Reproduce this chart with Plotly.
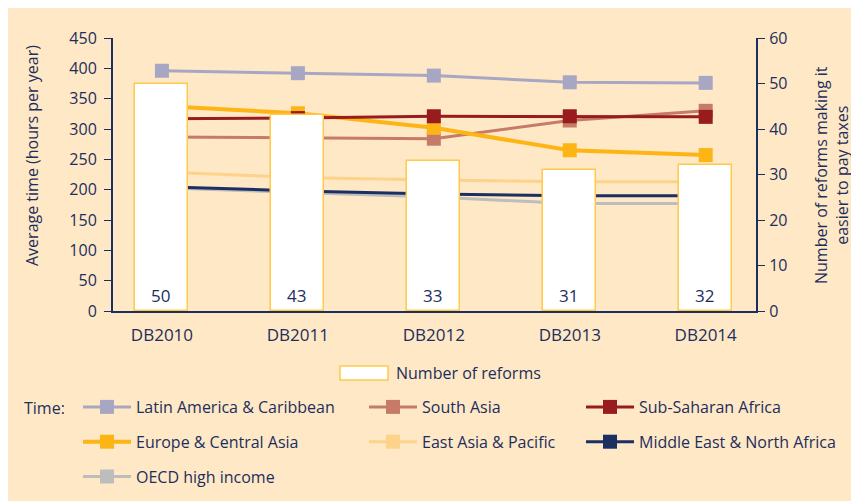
import plotly.graph_objects as go

categories = ["DB2010", "DB2011", "DB2012", "DB2013", "DB2014"]
reforms = [50, 43, 33, 31, 32]

latin_america = [396, 392, 388, 377, 376]
south_asia = [287, 286, 284, 314, 330]
sub_saharan = [317, 318, 321, 321, 320]
europe_central_asia = [338, 326, 302, 265, 257]
east_asia_pacific = [229, 220, 216, 213, 213]
mena = [205, 198, 193, 190, 190]
oecd = [203, 196, 188, 177, 177]

NAVY = "#1C2E5E"
BG = "#FFE8C5"
FONT = "Open Sans"

# plot-area edges as seen on screen (page has an 8px body margin)
PL, PR, PT, PB = 113, 756, 38, 311
PW, PH = PR - PL, PB - PT
OFF = 8

def px(x):
    return (x - PL) / PW

def py(y):
    return (PB - y) / PH

fig = go.Figure()

fig.add_trace(go.Bar(
    x=categories, y=reforms, yaxis="y2", width=0.39,
    marker=dict(color="white", line=dict(color="#FFC94A", width=1.5)),
    text=[str(v) for v in reforms], textposition="inside", insidetextanchor="start",
    textfont=dict(color=NAVY, size=17, family=FONT), showlegend=False,
    name="Number of reforms", cliponaxis=False,
))

series = [
    ("OECD high income", oecd, "#BDBDBD", 3, "legend", 3),
    ("South Asia", south_asia, "#C57B68", 3, "legend2", 1),
    ("Latin America & Caribbean", latin_america, "#A8A7C3", 3, "legend", 1),
    ("Europe & Central Asia", europe_central_asia, "#FDB515", 4, "legend", 2),
    ("East Asia & Pacific", east_asia_pacific, "#FDD38C", 3, "legend2", 2),
    ("Sub-Saharan Africa", sub_saharan, "#981B1E", 3, "legend3", 1),
    ("Middle East & North Africa", mena, "#1C2F63", 3, "legend3", 2),
]
for name, vals, col, w, leg, rank in series:
    fig.add_trace(go.Scatter(
        x=categories, y=vals, name=name, mode="lines+markers",
        line=dict(color=col, width=w),
        marker=dict(symbol="square", size=14, color=col),
        legend=leg, legendrank=rank, legendgroup=name,
    ))

legfont = dict(family=FONT, size=16, color=NAVY)

def leg(xpix, ypix):
    return dict(xref="container", yref="container", x=xpix / 859, y=1 - ypix / 501,
                xanchor="left", yanchor="top", orientation="v",
                bgcolor="rgba(0,0,0,0)", font=legfont, tracegroupgap=11,
                itemwidth=48)

fig.update_layout(
    width=859, height=501,
    paper_bgcolor=BG, plot_bgcolor=BG,
    margin=dict(l=PL - OFF, r=859 - (PR - OFF), t=PT - OFF, b=501 - (PB - OFF), autoexpand=False),
    font=dict(family=FONT, size=16, color=NAVY),
    bargap=0,
    xaxis=dict(type="category", range=[-0.36, 4.37], showgrid=False,
               showline=True, linecolor=NAVY, linewidth=2, ticks="", zeroline=False,
               ticklabelstandoff=8, tickfont=dict(size=17, color=NAVY)),
    yaxis=dict(range=[0, 450], dtick=50, showgrid=False, showline=True, linecolor=NAVY,
               linewidth=2, ticks="outside", ticklen=7, tickcolor=NAVY, zeroline=False,
               ticklabelstandoff=4, tickfont=dict(size=16, color=NAVY)),
    yaxis2=dict(range=[0, 60], dtick=10, overlaying="y", side="right", showgrid=False,
                showline=True, linecolor=NAVY, linewidth=2, ticks="outside", ticklen=7,
                tickcolor=NAVY, zeroline=False, ticklabelstandoff=1,
                tickfont=dict(size=16, color=NAVY)),
    legend=leg(70, 382),
    legend2=leg(356, 382),
    legend3=leg(573, 382),
    showlegend=True,
)

# Axis titles
fig.add_annotation(xref="paper", yref="paper", x=px(32), y=py(156),
                   text="Average time (hours per year)", showarrow=False, textangle=-90,
                   xanchor="center", yanchor="middle", font=legfont)
fig.add_annotation(xref="paper", yref="paper", x=px(831), y=py(175),
                   text="Number of reforms making it<br>easier to pay taxes", showarrow=False,
                   textangle=-90, xanchor="center", yanchor="middle", font=legfont)

# Legend entry for the bars (drawn as a swatch + label)
fig.add_shape(type="rect", xref="paper", yref="paper",
              x0=px(340), x1=px(388), y0=py(366), y1=py(380),
              fillcolor="white", line=dict(color="#FFC94A", width=1.5))
fig.add_annotation(xref="paper", yref="paper", x=px(394), y=py(373),
                   text="Number of reforms", showarrow=False, xanchor="left", yanchor="middle",
                   font=legfont)
fig.add_annotation(xref="paper", yref="paper", x=px(22), y=py(408),
                   text="Time:", showarrow=False, xanchor="left", yanchor="middle",
                   font=legfont)

fig.write_html("out.html")
